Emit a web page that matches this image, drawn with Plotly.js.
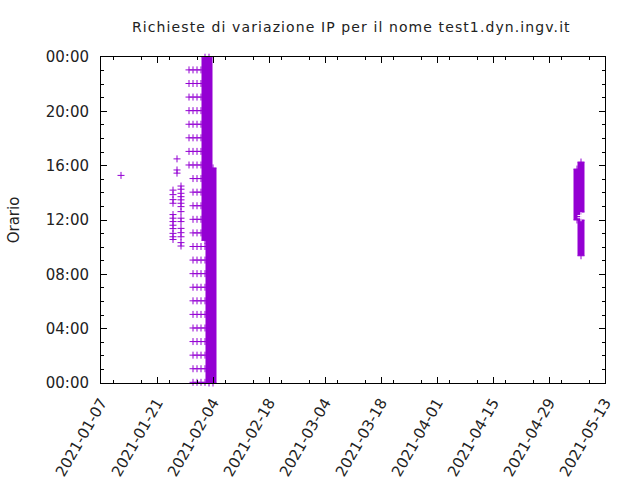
<!DOCTYPE html>
<html>
<head>
<meta charset="utf-8">
<script src="https://cdn.plot.ly/plotly-3.0.1.min.js"></script>
<style>
html,body{margin:0;padding:0;background:#fff;}
#chart{width:640px;height:480px;}
#chart .gtitle{letter-spacing:1.1px;}
</style>
</head>
<body>
<div id="chart"></div>
<script>
// ---- data ----
// isolated requests (date, time of day)
const sparseDates = [
  "2021-01-12",
  "2021-01-25","2021-01-25","2021-01-25","2021-01-25","2021-01-25","2021-01-25",
  "2021-01-25","2021-01-25","2021-01-25","2021-01-25","2021-01-25","2021-01-25",
  "2021-01-26","2021-01-26","2021-01-26",
  "2021-01-27","2021-01-27","2021-01-27","2021-01-27","2021-01-27","2021-01-27",
  "2021-01-27","2021-01-27","2021-01-27","2021-01-27","2021-01-27","2021-01-27",
  "2021-01-27","2021-01-27","2021-01-27"
];
const sparseTimes = [
  "15:17",
  "14:12","13:52","13:30","13:14","12:24","12:08",
  "11:53","11:37","11:22","11:01","10:46","10:34",
  "16:30","15:41","15:27",
  "14:30","14:16","13:58","13:43","13:29","13:14",
  "12:59","12:37","12:08","11:53","11:23","11:04",
  "10:46","10:20","10:05"
];

// hourly requests: days and the hourly times observed
const hourlyTimes = ["00:03","01:03","02:03","03:03","04:03","05:03","06:03","07:03",
  "08:03","09:03","10:03","11:03","12:03","13:03","14:03","15:03",
  "16:03","17:03","18:03","19:03","20:03","21:03","22:03","23:03"];
const hourlyDays  = ["2021-01-29","2021-01-30","2021-01-31","2021-02-01","2021-02-02"];
const hourlyFirst = ["16:03","00:03","00:03","00:03","00:03"];
const hourlyLast  = ["23:03","23:03","23:03","23:03","10:03"];

// dense bursts: day, first and last time of the continuous run
const denseDays  = ["2021-02-02","2021-02-03","2021-02-04","2021-05-06","2021-05-07","2021-05-07"];
const denseStart = ["10:30","00:00","00:00","12:00","12:35","09:22"];
const denseEnd   = ["23:59","23:59","15:50","15:45","16:16","12:00"];
// a few separate points inside the May burst
const extraDates = ["2021-05-07","2021-05-07"];
const extraTimes = ["12:20","12:10"];

// y tick labels
const yTickHours = ["00:00","04:00","08:00","12:00","16:00","20:00","24:00"];
const yTickText  = ["00:00","04:00","08:00","12:00","16:00","20:00","00:00"];

// ---- build ----
const BASE = "2021-01-01 ";
const toY = t => t === "24:00" ? "2021-01-02 00:00" : BASE + t;
const purple = "#9400d3";
const crossMarker = {symbol: "cross-thin-open", size: 5, color: purple, line: {color: purple, width: 1}};

const traces = [];
traces.push({
  type: "scatter", mode: "markers", x: sparseDates, y: sparseTimes.map(toY),
  marker: crossMarker, cliponaxis: false, showlegend: false, hoverinfo: "skip"
});
const hx = [], hy = [];
hourlyDays.forEach((d, i) => {
  const a = hourlyTimes.indexOf(hourlyFirst[i]);
  const b = hourlyTimes.indexOf(hourlyLast[i]);
  for (let k = a; k <= b; k++) { hx.push(d); hy.push(toY(hourlyTimes[k])); }
});
traces.push({
  type: "scatter", mode: "markers", x: hx, y: hy,
  marker: crossMarker, cliponaxis: false, showlegend: false, hoverinfo: "skip"
});
denseDays.forEach((d, i) => {
  traces.push({
    type: "scatter", mode: "lines+markers", x: [d, d], y: [toY(denseStart[i]), toY(denseEnd[i])],
    line: {color: purple, width: 7}, marker: crossMarker,
    cliponaxis: false, showlegend: false, hoverinfo: "skip"
  });
});
traces.push({
  type: "scatter", mode: "markers", x: extraDates, y: extraTimes.map(toY),
  marker: {symbol: "cross-thin-open", size: 5, color: "#ffffff", line: {color: "#ffffff", width: 1}},
  cliponaxis: false, showlegend: false, hoverinfo: "skip"
});

const font = {family: "DejaVu Sans, sans-serif", color: "#222", size: 15};
const layout = {
  width: 640, height: 480,
  margin: {l: 101, r: 35, t: 57, b: 97, pad: 0},
  paper_bgcolor: "#fff", plot_bgcolor: "#fff",
  font: font,
  title: {text: "Richieste di variazione IP per il nome test1.dyn.ingv.it",
          font: {family: "DejaVu Sans, sans-serif", size: 14, color: "#222"},
          x: 0.549, xanchor: "center", y: 0.943, yanchor: "middle"},
  xaxis: {
    type: "date", range: ["2021-01-07", "2021-05-13"],
    tick0: "2021-01-07", dtick: 14 * 86400000, tickformat: "%Y-%m-%d", tickangle: -60,
    ticks: "inside", ticklen: 6, tickcolor: "#000", tickwidth: 1,
    minor: {dtick: 7 * 86400000, ticks: "inside", ticklen: 3, tickcolor: "#000"},
    showline: true, linecolor: "#000", linewidth: 1, mirror: "allticks",
    showgrid: false, zeroline: false, tickfont: font, ticklabelstandoff: 4
  },
  yaxis: {
    type: "date", range: [toY("00:00"), toY("24:00")],
    tickvals: yTickHours.map(toY), ticktext: yTickText,
    ticks: "inside", ticklen: 6, tickcolor: "#000", tickwidth: 1,
    minor: {dtick: 3600000, ticks: "inside", ticklen: 3, tickcolor: "#000"},
    showline: true, linecolor: "#000", linewidth: 1, mirror: "allticks",
    showgrid: false, zeroline: false, tickfont: font, ticklabelstandoff: 8,
    title: {text: "Orario", font: {family: "DejaVu Sans, sans-serif", size: 15, color: "#222"}, standoff: 22}
  }
};
Plotly.newPlot("chart", traces, layout, {staticPlot: true, displayModeBar: false});
</script>
</body>
</html>
